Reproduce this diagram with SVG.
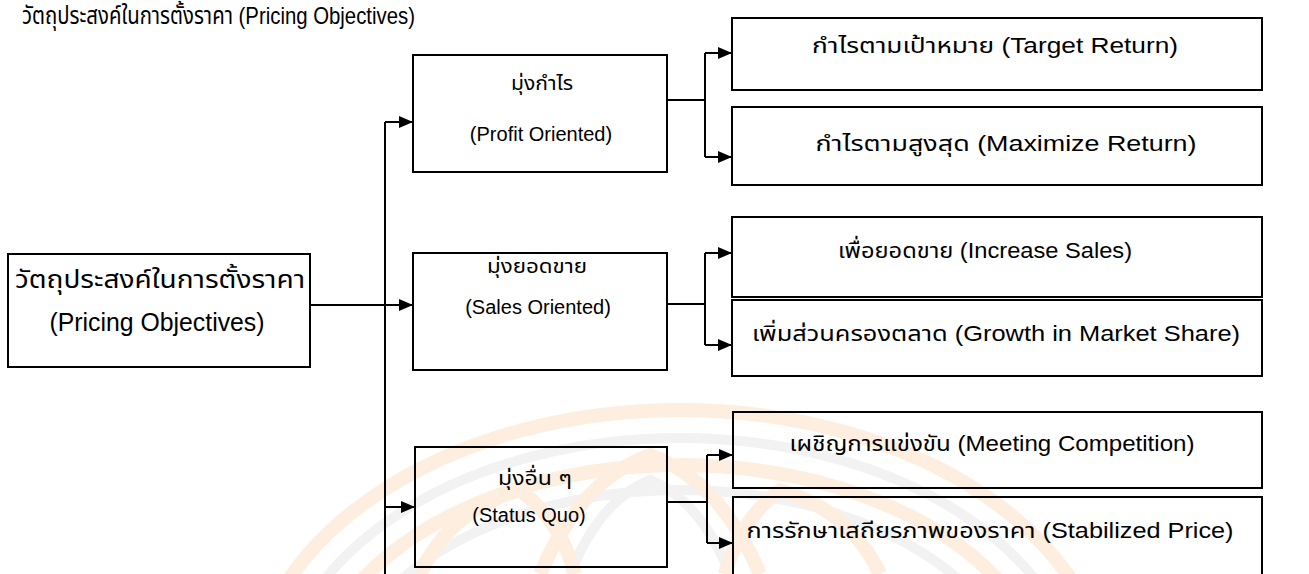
<svg xmlns="http://www.w3.org/2000/svg" width="1309" height="574" viewBox="0 0 1309 574">
<defs>
<marker id="arr" markerWidth="14" markerHeight="12" refX="14" refY="6" orient="auto" markerUnits="userSpaceOnUse">
<path d="M0,0 L14,6 L0,12 Z" fill="#000"/>
</marker>
</defs>
<style>
.box{fill:none;stroke:#000;stroke-width:2}
.t{font-family:"Liberation Sans","Noto Sans Thai","Noto Sans",sans-serif;font-size:20px;fill:#000;text-anchor:middle}
.r{font-size:22px}
.big{font-size:25px}
.ln{fill:none;stroke:#000;stroke-width:2}
.wo{fill:none;stroke:#fdeedf;stroke-width:14}
.wg{fill:none;stroke:#f2f2f2;stroke-width:10}
</style>
<rect width="1309" height="574" fill="#fff"/>
<g id="watermark">
<path class="wo" d="M250,700 A430,290 0 0 1 1110,700"/>
<path class="wg" d="M280,700 A400,262 0 0 1 1080,700"/>
<path class="wo" d="M310,700 A370,235 0 0 1 1050,700"/>
<path class="wg" d="M340,700 A340,210 0 0 1 1020,700"/>
<path class="wo" d="M540,574 Q580,480 650,455 Q720,480 760,574"/>
<path class="wg" d="M570,574 Q600,500 650,480 Q700,500 730,574"/>
<path class="wo" d="M420,574 Q450,510 520,490 Q560,520 575,574"/>
<path class="wo" d="M725,574 Q740,520 780,490 Q850,510 880,574"/>
</g>
<text id="title" x="22" y="24" class="t" style="text-anchor:start;font-size:24px" textLength="393" lengthAdjust="spacingAndGlyphs">วัตถุประสงค์ในการตั้งราคา (Pricing Objectives)</text>
<g id="connectors">
<path class="ln" d="M310,305 H413" marker-end="url(#arr)"/>
<path class="ln" d="M385,122 V574"/>
<path class="ln" d="M385,122 H413" marker-end="url(#arr)"/>
<path class="ln" d="M385,507 H415" marker-end="url(#arr)"/>
<path class="ln" d="M667,100 H705"/>
<path class="ln" d="M705,53 V157"/>
<path class="ln" d="M705,53 H732" marker-end="url(#arr)"/>
<path class="ln" d="M705,157 H732" marker-end="url(#arr)"/>
<path class="ln" d="M667,304 H705"/>
<path class="ln" d="M705,253 V345"/>
<path class="ln" d="M705,253 H732" marker-end="url(#arr)"/>
<path class="ln" d="M705,345 H732" marker-end="url(#arr)"/>
<path class="ln" d="M667,502 H707"/>
<path class="ln" d="M707,455 V543"/>
<path class="ln" d="M707,455 H733" marker-end="url(#arr)"/>
<path class="ln" d="M707,543 H733" marker-end="url(#arr)"/>
</g>
<g id="root">
<rect class="box" x="8" y="254" width="302" height="113"/>
<text class="t big" x="160" y="288" textLength="290" lengthAdjust="spacingAndGlyphs">วัตถุประสงค์ในการตั้งราคา</text>
<text class="t big" x="157" y="331" textLength="215" lengthAdjust="spacingAndGlyphs">(Pricing Objectives)</text>
</g>
<g id="profit">
<rect class="box" x="413" y="55" width="254" height="117"/>
<text class="t" x="542" y="90" textLength="62" lengthAdjust="spacingAndGlyphs">มุ่งกำไร</text>
<text class="t" x="541" y="141">(Profit Oriented)</text>
</g>
<g id="sales">
<rect class="box" x="413" y="253" width="254" height="117"/>
<text class="t" x="537" y="273" textLength="100" lengthAdjust="spacingAndGlyphs">มุ่งยอดขาย</text>
<text class="t" x="538" y="314">(Sales Oriented)</text>
</g>
<g id="status">
<rect class="box" x="415" y="447" width="252" height="120"/>
<text class="t" x="535" y="485" textLength="74" lengthAdjust="spacingAndGlyphs">มุ่งอื่น ๆ</text>
<text class="t" x="529" y="522">(Status Quo)</text>
</g>
<g id="target">
<rect class="box" x="732" y="18" width="530" height="72"/>
<text class="t r" x="995" y="53" textLength="366" lengthAdjust="spacingAndGlyphs">กำไรตามเป้าหมาย (Target Return)</text>
</g>
<g id="maximize">
<rect class="box" x="732" y="107" width="530" height="78"/>
<text class="t r" x="1006" y="151" textLength="381" lengthAdjust="spacingAndGlyphs">กำไรตามสูงสุด (Maximize Return)</text>
</g>
<g id="increase">
<rect class="box" x="732" y="217" width="530" height="80"/>
<text class="t r" x="985" y="258" textLength="294" lengthAdjust="spacingAndGlyphs">เพื่อยอดขาย (Increase Sales)</text>
</g>
<g id="growth">
<rect class="box" x="732" y="300" width="530" height="76"/>
<text class="t r" x="996" y="341" textLength="488" lengthAdjust="spacingAndGlyphs">เพิ่มส่วนครองตลาด (Growth in Market Share)</text>
</g>
<g id="meeting">
<rect class="box" x="733" y="412" width="529" height="76"/>
<text class="t r" x="992" y="451" textLength="405" lengthAdjust="spacingAndGlyphs">เผชิญการแข่งขัน (Meeting Competition)</text>
</g>
<g id="stabilized">
<rect class="box" x="733" y="497" width="529" height="80"/>
<text class="t r" x="990" y="538" textLength="487" lengthAdjust="spacingAndGlyphs">การรักษาเสถียรภาพของราคา (Stabilized Price)</text>
</g>
</svg>
